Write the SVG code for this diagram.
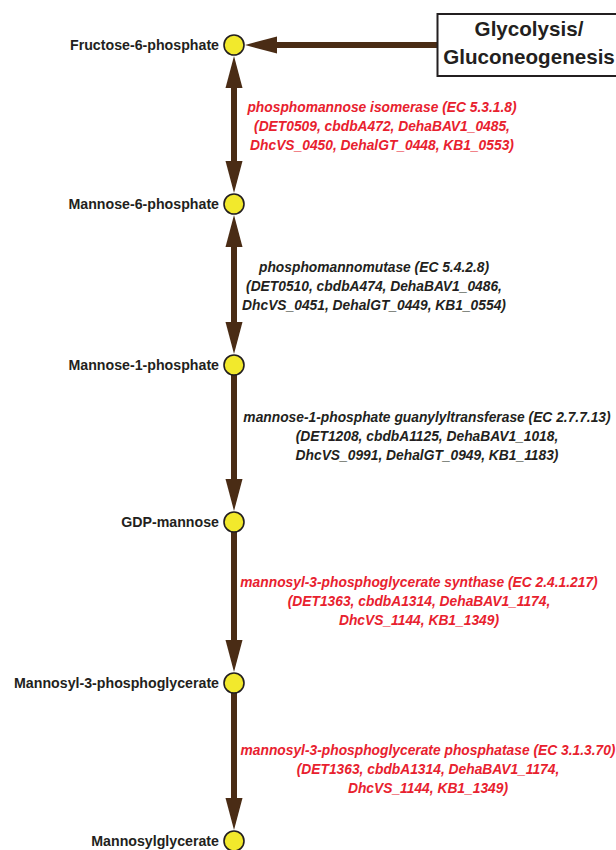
<svg xmlns="http://www.w3.org/2000/svg" width="616" height="850" viewBox="0 0 616 850">
<style>
.bg{fill:#ffffff}
.node circle{fill:#f2e92c;stroke:#231f20;stroke-width:1.6}
.node text{font-family:"Liberation Sans",Arial,sans-serif;font-weight:bold;font-size:14.2px;fill:#231f20;text-anchor:end}
.conn line{stroke:#4a2c15;stroke-width:6;stroke-linecap:butt;fill:none}
.lab{font-family:"Liberation Sans",Arial,sans-serif;font-weight:bold;font-style:italic;font-size:13.8px;text-anchor:middle}
.red{fill:#e8212e}
.blk{fill:#231f20}
.box rect{fill:#ffffff;stroke:#231f20;stroke-width:2}
.box text{font-family:"Liberation Sans",Arial,sans-serif;font-weight:bold;font-size:20.6px;fill:#231f20;text-anchor:middle}
</style>
<defs>
<marker id="ah" markerUnits="userSpaceOnUse" markerWidth="33" markerHeight="18" refX="0" refY="8.5" orient="auto-start-reverse" overflow="visible">
<path d="M0,0 L32,8.5 L0,17 Z" fill="#4a2c15"/>
</marker>
</defs>
<rect class="bg" x="0" y="0" width="616" height="850"/>

<g id="connectors" class="conn">
<line x1="437" y1="45" x2="277" y2="45" marker-end="url(#ah)"/>
<line x1="234" y1="88" x2="234" y2="161" marker-start="url(#ah)" marker-end="url(#ah)"/>
<line x1="234" y1="247" x2="234" y2="322" marker-start="url(#ah)" marker-end="url(#ah)"/>
<line x1="234" y1="374" x2="234" y2="479" marker-end="url(#ah)"/>
<line x1="234" y1="531" x2="234" y2="640" marker-end="url(#ah)"/>
<line x1="234" y1="692" x2="234" y2="798" marker-end="url(#ah)"/>
</g>

<g id="box-glycolysis" class="box">
<rect x="437.5" y="14" width="190" height="62"/>
<text x="529" y="36">Glycolysis/</text>
<text x="529" y="64">Gluconeogenesis</text>
</g>

<g id="node-f6p" class="node">
<circle cx="234" cy="45" r="10"/>
<text x="219" y="50">Fructose-6-phosphate</text>
</g>
<g id="node-m6p" class="node">
<circle cx="234" cy="204" r="10"/>
<text x="219" y="209">Mannose-6-phosphate</text>
</g>
<g id="node-m1p" class="node">
<circle cx="234" cy="365" r="10"/>
<text x="219" y="370">Mannose-1-phosphate</text>
</g>
<g id="node-gdpm" class="node">
<circle cx="234" cy="522" r="10"/>
<text x="219" y="527">GDP-mannose</text>
</g>
<g id="node-m3pg" class="node">
<circle cx="234" cy="683" r="10"/>
<text x="219" y="688">Mannosyl-3-phosphoglycerate</text>
</g>
<g id="node-mg" class="node">
<circle cx="234" cy="841" r="10"/>
<text x="219" y="846">Mannosylglycerate</text>
</g>

<g id="label-pmi" class="lab red">
<text x="382" y="111.5">phosphomannose isomerase (EC 5.3.1.8)</text>
<text x="382" y="130.5">(DET0509, cbdbA472, DehaBAV1_0485,</text>
<text x="382" y="149.5">DhcVS_0450, DehalGT_0448, KB1_0553)</text>
</g>
<g id="label-pmm" class="lab blk">
<text x="374" y="271.5">phosphomannomutase (EC 5.4.2.8)</text>
<text x="374" y="290.5">(DET0510, cbdbA474, DehaBAV1_0486,</text>
<text x="374" y="309.5">DhcVS_0451, DehalGT_0449, KB1_0554)</text>
</g>
<g id="label-gmp" class="lab blk">
<text x="427" y="421.5">mannose-1-phosphate guanylyltransferase (EC 2.7.7.13)</text>
<text x="427" y="440.5">(DET1208, cbdbA1125, DehaBAV1_1018,</text>
<text x="427" y="459.5">DhcVS_0991, DehalGT_0949, KB1_1183)</text>
</g>
<g id="label-mpgs" class="lab red">
<text x="419" y="586.5">mannosyl-3-phosphoglycerate synthase (EC 2.4.1.217)</text>
<text x="419" y="605.5">(DET1363, cbdbA1314, DehaBAV1_1174,</text>
<text x="419" y="624.5">DhcVS_1144, KB1_1349)</text>
</g>
<g id="label-mpgp" class="lab red">
<text x="428" y="755">mannosyl-3-phosphoglycerate phosphatase (EC 3.1.3.70)</text>
<text x="428" y="774">(DET1363, cbdbA1314, DehaBAV1_1174,</text>
<text x="428" y="793">DhcVS_1144, KB1_1349)</text>
</g>
</svg>
